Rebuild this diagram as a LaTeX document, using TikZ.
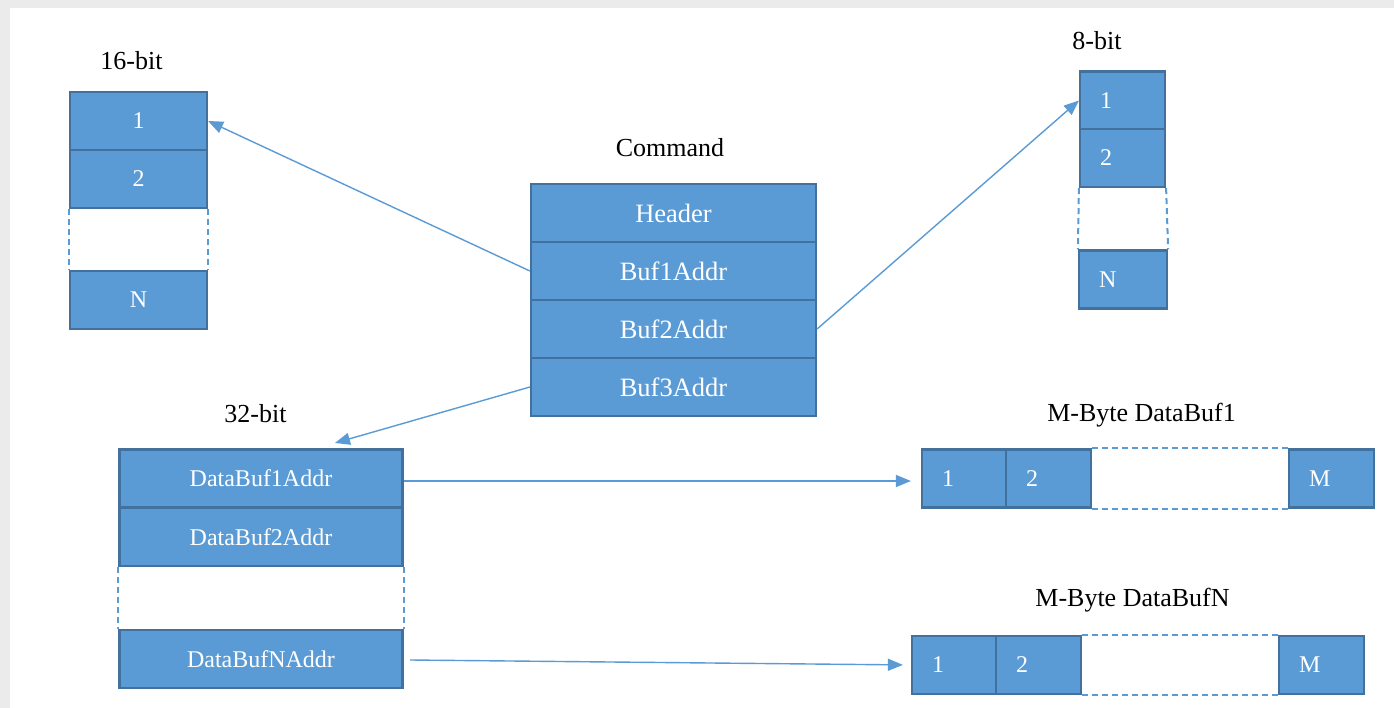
\documentclass[tikz,border=0pt]{standalone}
\usepackage{fontspec}
\setmainfont{Liberation Serif}
\usetikzlibrary{arrows.meta}
\definecolor{cellfill}{HTML}{5B9BD5}
\definecolor{celledge}{HTML}{41719C}
\definecolor{bggray}{HTML}{EBEBEB}
\tikzset{
  cell/.style={draw=celledge, line width=2.2pt, fill=cellfill, text=white, inner sep=0pt,
    minimum height=58pt, font=\fontsize{24}{28}\selectfont},
  cmdcell/.style={cell, minimum width=285pt, font=\fontsize{26.5}{30}\selectfont},
  leftcell/.style={cell, inner xsep=20pt, text width=#1-40pt, align=left},
  gapline/.style={draw=cellfill, line width=2pt, dash pattern=on 6pt off 4pt},
  link/.style={draw=cellfill, line width=1.4pt, -{Triangle[length=15pt,width=12pt]}},
  caption/.style={anchor=base, font=\fontsize{26}{30}\selectfont, inner sep=0pt}
}
\begin{document}
\begin{tikzpicture}[x=1pt,y=-1pt]
\useasboundingbox (0,0) rectangle (1394,708);
\fill[bggray] (0,0) rectangle (1394,708);
\fill[white] (10,8) rectangle (1394,708);

% captions
\node[caption] (cap16) at (131.5,70) {16-bit};
\node[caption] (capcmd) at (670,157) {Command};
\node[caption] (cap8) at (1097,50) {8-bit};
\node[caption] (cap32) at (255.5,422) {32-bit};
\node[caption] (capd1) at (1141.5,421) {M-Byte DataBuf1};
\node[caption] (capdn) at (1132.5,606) {M-Byte DataBufN};

% 16-bit array
\node[cell, minimum width=137pt] (a16one) at (138.5,121) {1};
\node[cell, minimum width=137pt] (a16two) at (138.5,179) {2};
\node[cell, minimum width=137pt] (a16n) at (138.5,300) {N};
\draw[gapline] (a16two.south west) -- (a16n.north west);
\draw[gapline] (a16two.south east) -- (a16n.north east);

% Command
\node[cmdcell] (hdr) at (673.5,213) {Header};
\node[cmdcell] (cbuf1) at (673.5,271) {Buf1Addr};
\node[cmdcell] (cbuf2) at (673.5,329) {Buf2Addr};
\node[cmdcell] (cbuf3) at (673.5,387) {Buf3Addr};

% 8-bit array
\node[leftcell=85pt] (a8one) at (1122.5,100.5) {1};
\node[leftcell=85pt] (a8two) at (1122.5,158) {2};
\node[leftcell=88pt] (a8n) at (1123,279.5) {N};
\draw[gapline] (a8two.south west) -- (a8n.north west);
\draw[gapline] (a8two.south east) -- (a8n.north east);

% 32-bit array
\node[cell, minimum width=283pt] (a32one) at (261,478.5) {DataBuf1Addr};
\node[cell, minimum width=283pt] (a32two) at (261,537) {DataBuf2Addr};
\node[cell, minimum width=283pt] (a32n) at (261,659) {DataBufNAddr};
\draw[gapline] (a32two.south west) -- (a32n.north west);
\draw[gapline] (a32two.south east) -- (a32n.north east);

% DataBuf1
\node[leftcell=84pt] (d1one) at (964,478.5) {1};
\node[leftcell=85pt] (d1two) at (1048.5,478.5) {2};
\node[leftcell=85pt] (d1m) at (1331.5,478.5) {M};
\draw[gapline] (d1two.north east) -- (d1m.north west);
\draw[gapline] (d1two.south east) -- (d1m.south west);

% DataBufN
\node[leftcell=84pt] (dnone) at (954,665) {1};
\node[leftcell=85pt] (dntwo) at (1038.5,665) {2};
\node[leftcell=85pt] (dnm) at (1321.5,665) {M};
\draw[gapline] (dntwo.north east) -- (dnm.north west);
\draw[gapline] (dntwo.south east) -- (dnm.south west);

% connectors
\coordinate (t32) at (335,443);
\coordinate (s32n) at (410,660);
\draw[link] (cbuf1.west) -- (a16one.east);
\draw[link] (cbuf2.east) -- (a8one.west);
\draw[link] (cbuf3.west) -- (t32);
\draw[link, shorten >=10pt] ([yshift=-2.5pt]a32one.east) -- ([yshift=-2.5pt]d1one.west);
\draw[link, shorten >=8pt] (s32n) -- (dnone.west);
\end{tikzpicture}
\end{document}
